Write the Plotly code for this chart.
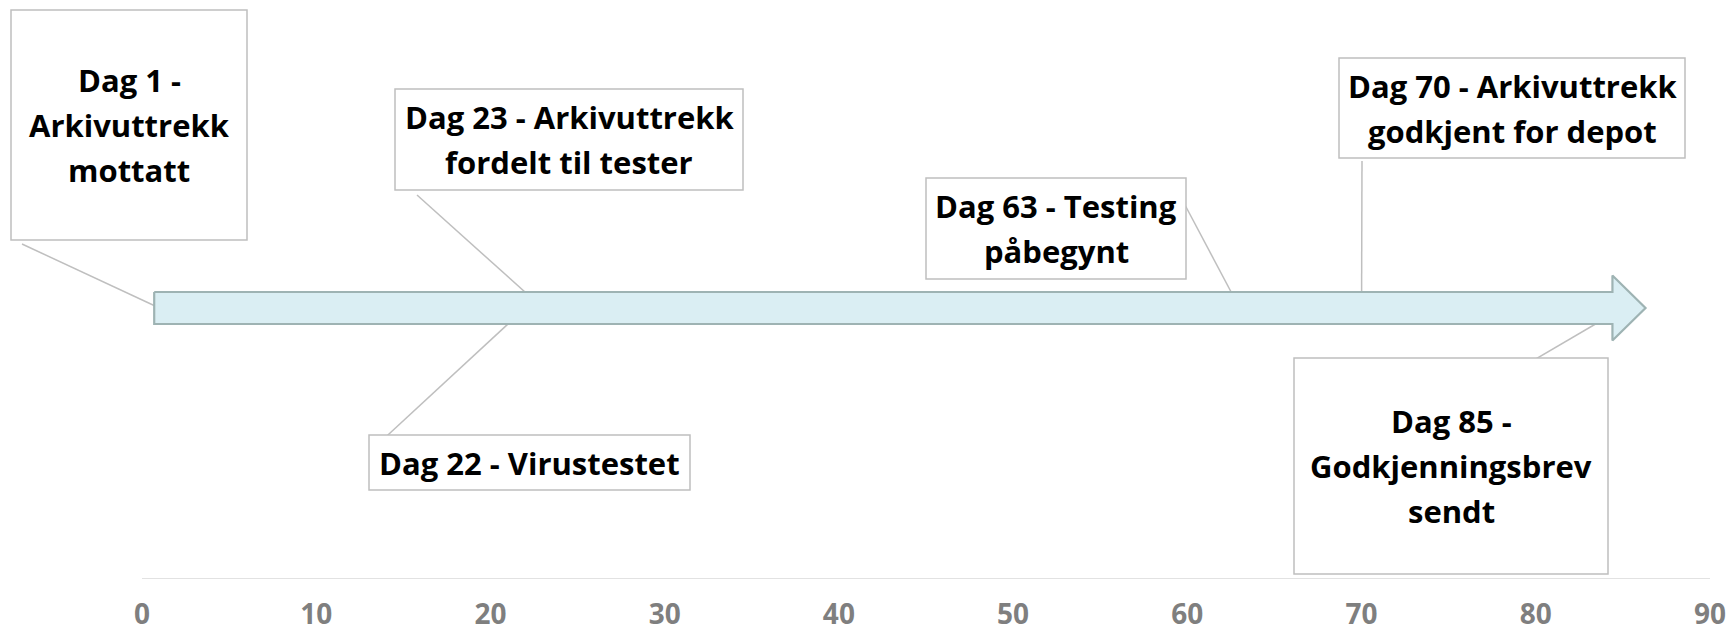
import plotly.graph_objects as go

# ---------------- data ----------------
event_days = [1, 22, 23, 63, 70, 85]
event_labels = [
    "Dag 1 -<br>Arkivuttrekk<br>mottatt",
    "Dag 22 - Virustestet",
    "Dag 23 - Arkivuttrekk<br>fordelt til tester",
    "Dag 63 - Testing<br>påbegynt",
    "Dag 70 - Arkivuttrekk<br>godkjent for depot",
    "Dag 85 -<br>Godkjenningsbrev<br>sendt",
]
x_ticks = [0, 10, 20, 30, 40, 50, 60, 70, 80, 90]

# ---------------- layout (pixel geometry) ----------------
W, H = 1730, 633
PX0, PX90 = 142, 1710          # pixel position of day 0 and day 90
PPD = (PX90 - PX0) / 90.0      # pixels per day
AXIS_ROW = 579                 # pixel row of the baseline
TIMELINE_Y = 308               # centre row of the arrow
BODY_HALF, HEAD_HALF = 16, 32.5
ARROW_START, ARROW_HEAD_BASE, ARROW_TIP = 0.7, 84.4, 86.3

# label boxes: (left, top, right, bottom) in pixels, and leader start point
label_boxes = [
    (11, 10, 247, 240),
    (369, 435, 690, 490),
    (395, 89, 743, 190),
    (926, 178, 1186, 279),
    (1339, 58, 1685, 158),
    (1294, 358, 1608, 574),
]
leader_starts = [
    (22, 244),
    (376, 446),
    (417, 195),
    (1185, 205),
    (1362, 161),
    (1522, 367),
]
LINE_GAP = 45
LABEL_FONT = dict(family="Open Sans", size=31, color="#000000", weight="bold")
GREY = "#BFBFBF"


def px_to_x(px):
    return (px - PX0) / PPD


fig = go.Figure()

# invisible event points (covered by the arrow, like the original)
fig.add_trace(go.Scatter(
    x=event_days, y=[TIMELINE_Y] * len(event_days), mode="markers",
    marker=dict(size=6, color="#DAEEF3", opacity=0), hoverinfo="skip",
    showlegend=False,
))

# arrow
ax_ = [ARROW_START, ARROW_HEAD_BASE, ARROW_HEAD_BASE, ARROW_TIP,
       ARROW_HEAD_BASE, ARROW_HEAD_BASE, ARROW_START, ARROW_START]
ay_ = [TIMELINE_Y - BODY_HALF, TIMELINE_Y - BODY_HALF, TIMELINE_Y - HEAD_HALF,
       TIMELINE_Y, TIMELINE_Y + HEAD_HALF, TIMELINE_Y + BODY_HALF,
       TIMELINE_Y + BODY_HALF, TIMELINE_Y - BODY_HALF]
fig.add_trace(go.Scatter(
    x=ax_, y=ay_, mode="lines", fill="toself", fillcolor="#DAEEF3",
    line=dict(color="#9EB3B3", width=2.2), hoverinfo="skip", showlegend=False,
))

shapes = []
# leader lines
for day, (sx, sy) in zip(event_days, leader_starts):
    shapes.append(dict(type="line", xref="x", yref="y",
                       x0=px_to_x(sx), y0=sy, x1=day, y1=TIMELINE_Y,
                       line=dict(color=GREY, width=1.5), layer="below"))
# boxes
for (l, t, r, b) in label_boxes:
    shapes.append(dict(type="rect", xref="x", yref="y",
                       x0=px_to_x(l), x1=px_to_x(r), y0=t, y1=b,
                       fillcolor="white", line=dict(color=GREY, width=1.5),
                       layer="below"))
# baseline axis line
shapes.append(dict(type="line", xref="x", yref="y",
                   x0=x_ticks[0], x1=x_ticks[-1], y0=AXIS_ROW, y1=AXIS_ROW,
                   line=dict(color="#D9D9D9", width=1.5), layer="below"))

annotations = []
for text, (l, t, r, b) in zip(event_labels, label_boxes):
    lines = text.split("<br>")
    cx = px_to_x((l + r) / 2)
    cy = (t + b) / 2
    n = len(lines)
    for i, ln in enumerate(lines):
        yy = cy + (i - (n - 1) / 2) * LINE_GAP
        annotations.append(dict(
            x=cx, y=yy, xref="x", yref="y", text=ln, showarrow=False,
            xanchor="center", yanchor="middle", font=LABEL_FONT,
        ))

fig.update_layout(
    width=W, height=H,
    margin=dict(l=0, r=0, t=0, b=H - AXIS_ROW, autoexpand=False),
    paper_bgcolor="white", plot_bgcolor="white",
    showlegend=False,
    shapes=shapes, annotations=annotations,
    xaxis=dict(range=[px_to_x(0), px_to_x(W)], tickvals=x_ticks,
               ticktext=[str(v) for v in x_ticks],
               showgrid=False, zeroline=False, showline=False, ticks="",
               automargin=False, ticklabelstandoff=16,
               tickfont=dict(family="Open Sans", size=28, color="#7F7F7F",
                             weight="bold"),
               fixedrange=True),
    yaxis=dict(range=[AXIS_ROW, 0], visible=False, showgrid=False,
               automargin=False, zeroline=False, fixedrange=True),
)

fig.write_html(
    "out.html",
    config={"displayModeBar": False},
    post_script="document.body.style.margin='0';document.body.style.overflow='hidden';",
)
